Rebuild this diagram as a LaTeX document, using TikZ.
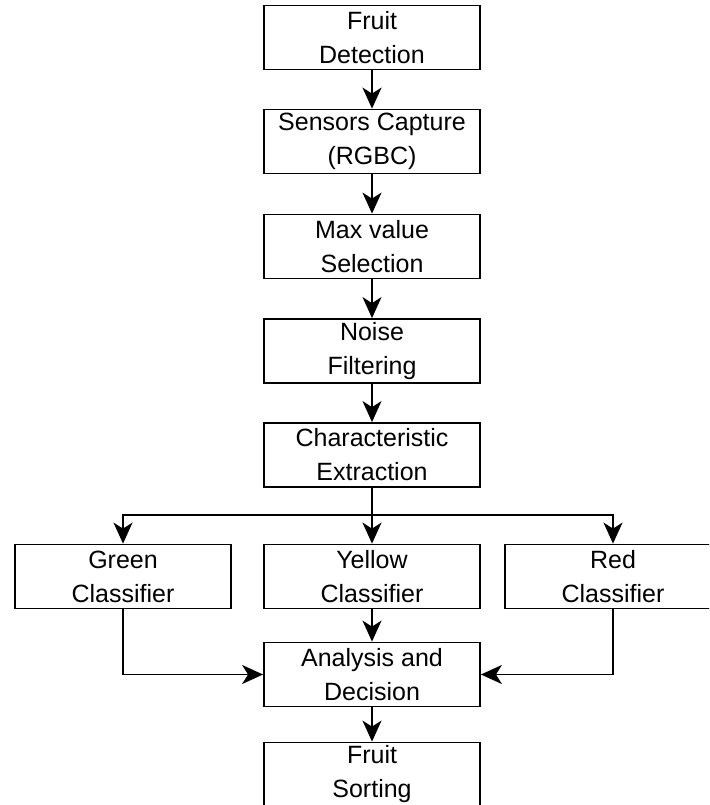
\documentclass[tikz,border=0pt]{standalone}
\usepackage{fontspec}
\setmainfont{Liberation Sans}
\usetikzlibrary{arrows.meta}
\begin{document}
\begin{tikzpicture}[x=1pt,y=-1pt,
  box/.style={draw, line width=1.8pt, rectangle, minimum width=216pt, minimum height=64pt,
    inner sep=0pt, align=center, font=\fontsize{25}{34}\selectfont},
  conn/.style={line width=1.8pt, -{Stealth[length=21pt,width=19pt,inset=6pt]}},
  line/.style={line width=1.8pt}]
\clip (0,0) rectangle (709,805);
\fill[white] (0,0) rectangle (709,805);
\node[box] (det) at (372,37.5) {Fruit\\Detection};
\node[box] (sen) at (372,141.5) {Sensors Capture\\(RGBC)};
\node[box] (max) at (372,246.5) {Max value\\Selection};
\node[box] (noi) at (372,351) {Noise\\Filtering};
\node[box] (cha) at (372,455) {Characteristic\\Extraction};
\node[box] (gre) at (123,576.5) {Green\\Classifier};
\node[box] (yel) at (372,576.5) {Yellow\\Classifier};
\node[box] (red) at (613,576.5) {Red\\Classifier};
\node[box] (ana) at (372,674.5) {Analysis and\\Decision};
\node[box] (sor) at (372,774.5) {Fruit\\Sorting};
\coordinate (br) at (372,515);
\draw[conn] (det) -- (sen);
\draw[conn] (sen) -- (max);
\draw[conn] (max) -- (noi);
\draw[conn] (noi) -- (cha);
\draw[line] (cha) -- (br);
\draw[conn] (br) -| (gre);
\draw[conn] (br) -| (red);
\draw[conn] (br) -- (yel);
\draw[conn] (yel) -- (ana);
\draw[conn] (gre) |- (ana);
\draw[conn] (red) |- (ana);
\draw[conn] (ana) -- (sor);
\end{tikzpicture}
\end{document}
